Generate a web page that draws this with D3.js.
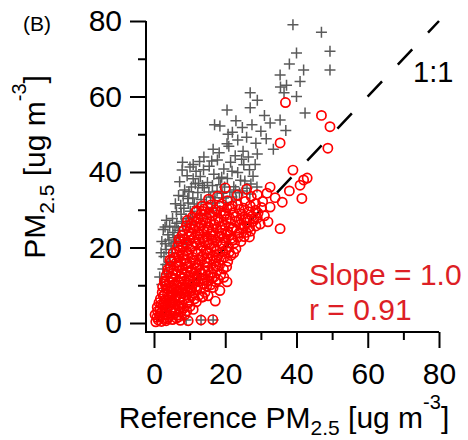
<!DOCTYPE html>
<html>
<head>
<meta charset="utf-8">
<script src="https://cdn.jsdelivr.net/npm/d3@7"></script>
<style>
  body { margin: 0; background: #fff; }
  svg { display: block; font-family: "Liberation Sans", Arial, sans-serif; }
</style>
</head>
<body>
<svg id="chart" width="468" height="440"></svg>
<script>
// tick values
var majorTicks = [0, 20, 40, 60, 80];
var minorTicks = [10, 30, 50, 70];

// sensor vs reference, [reference, sensor] in ug m-3
// gray crosses
var grayPoints = [
  [39.0,79.0],[47.0,77.0],[40.0,71.5],[49.4,72.0],[49.4,67.0],[38.0,68.6],[42.0,67.0],[35.4,65.7],
  [35.5,62.5],[36.5,61.0],[37.2,63.0],[41.0,64.0],[40.0,60.0],[42.4,55.6],[27.0,61.0],[29.0,59.0],
  [27.0,57.0],[31.0,55.0],[35.4,53.8],[37.0,51.0],[20.5,56.4],[17.0,52.5],[18.5,52.2],[20.8,50.0],
  [16.6,46.0],[11.0,42.0],[7.9,40.5],
  [22.0,50.5],[23.5,48.5],[24.8,51.8],[26.0,49.2],[27.5,52.5],[28.6,47.6],[30.0,50.8],[31.5,48.8],
  [32.6,53.0],[25.0,45.5],[29.0,44.8],[33.5,46.0],[23.0,53.6],[21.0,46.8],
  [14.0,44.0],[15.5,41.5],[17.8,43.2],[19.6,40.8],[21.5,42.6],[23.5,39.9],[25.2,41.9],[13.0,38.8],
  [15.0,37.2],[16.8,39.4],[18.7,36.6],[20.6,38.3],[22.4,36.1],[24.3,37.8],[26.1,35.7],[27.8,38.9],
  [10.5,36.0],[12.3,34.6],[14.1,35.8],[15.9,33.4],[17.7,34.9],[19.5,33.1],[21.3,34.7],[23.1,32.6],
  [9.5,33.0],[11.3,31.5],[13.2,32.7],[8.4,30.4],[10.2,29.6],[12.1,30.8],[9.0,27.6],[7.6,28.8],
  [6.4,26.4],[8.1,25.5],[5.3,24.0],[7.0,23.1],[4.2,22.0],[5.8,21.2],[3.4,19.5],[5.0,18.6],
  [2.8,17.6],[4.2,16.0],[2.5,14.3],[3.6,13.0],[2.2,10.2],[9.0,0.8],[13.2,0.8],[16.6,0.8],
  [6.0,31.6],[8.6,35.2],[11.8,40.2],[6.9,33.8],[16.5,30.6],[18.5,29.8],[14.6,28.9],
  [2.6,24.8],[4.4,25.6],[3.5,27.2],[2.2,21.6],[3.1,25.4],[5.9,25.4],[10.0,26.5],[6.4,21.5],
  [4.5,16.2],[9.2,20.7],[20.5,47.5],[26.5,44.0],[12.5,37.0],[17.0,31.8],[19.8,36.0],[24.0,34.5],
  [7.2,37.4],[8.0,42.6],[9.3,39.0],[10.1,41.3],[11.0,38.2],[12.8,42.8],[13.9,40.6],[16.2,42.9],
  [18.3,45.1],[19.0,38.6],[21.9,40.2],[22.8,44.3],[24.6,43.4],[26.8,40.6],[27.2,36.8],[28.4,42.0],
  [7.5,31.2],[8.2,33.6],[9.8,34.8],[10.9,33.1],[11.6,36.9],[13.6,36.4],[14.7,31.9],[15.4,34.7],
  [16.4,36.4],[17.1,33.2],[18.2,38.3],[19.1,34.4],[20.2,31.9],[21.9,33.4],[22.9,35.2],[24.9,35.0],
  [25.5,37.6],[26.9,34.2],[28.9,36.0],[5.2,27.7],[6.3,29.5],[7.8,26.9],[9.6,31.8],[10.8,28.0],
  [12.9,29.0],[3.9,23.4],[4.8,20.4],[6.8,24.6],[3.2,21.0],[5.6,22.6],[2.0,18.6],[3.3,15.5],[1.6,12.2]
];

// red circles
var redPoints = [
  [0.5,0.3],[1.2,0.8],[0.8,1.5],[2.1,0.4],[1.6,1.9],[2.8,1.2],[3.4,0.6],[0.3,2.2],[4.1,1.5],[3.0,2.4],
  [5.2,0.9],[4.6,2.0],[6.3,1.3],[2.2,2.9],[7.4,0.7],[5.8,2.6],[1.0,3.1],[13.2,0.8],[16.5,0.9],[9.6,0.6],
  [0.9,4.2],[1.7,3.6],[2.5,4.8],[3.3,3.4],[3.9,4.5],[4.7,3.1],[5.4,4.2],[6.1,3.3],[6.8,4.6],[7.5,2.8],
  [8.3,3.9],[9.2,3.2],[2.9,5.3],[4.4,5.6],[5.9,5.1],[1.4,5.4],[7.8,5.4],[10.1,4.4],[3.6,2.2],[6.6,2.1],
  [1.9,2.6],[3.8,1.1],[4.9,3.7],[6.9,1.6],[8.7,2.2],[2.0,4.9],[5.0,5.3],[7.2,3.8],[9.6,5.2],[11.0,3.6],
  [1.8,6.4],[2.6,7.1],[3.2,6.2],[3.8,7.7],[4.5,6.6],[5.1,7.5],[5.7,6.1],[6.4,7.2],[7.1,6.5],[7.7,7.8],
  [8.4,6.3],[9.0,7.4],[9.8,6.0],[10.6,7.1],[11.4,6.4],[12.5,7.3],[13.7,6.9],[2.3,8.1],[4.9,8.4],[6.9,8.6],
  [8.8,8.2],[10.3,8.5],[3.5,5.8],[11.9,5.6],[15.2,7.2],[13.5,6.9],[17.2,5.8],[18.5,8.6],[19.6,12.1],
  [2.9,7.6],[4.2,7.1],[5.5,8.9],[6.0,6.9],[7.4,7.0],[8.1,8.9],[9.4,8.4],[10.9,7.9],[12.0,8.8],[14.3,8.1],
  [2.4,9.6],[3.1,10.4],[3.7,9.1],[4.3,10.8],[5.0,9.4],[5.6,10.2],[6.2,9.0],[6.9,10.7],[7.5,9.5],[8.1,10.1],
  [8.8,9.3],[9.5,10.6],[10.2,9.1],[10.9,10.3],[11.7,9.6],[12.4,10.9],[13.1,9.2],[13.9,10.4],[14.8,9.8],[15.9,10.1],
  [16.6,9.4],[3.0,11.2],[5.3,11.5],[7.8,11.8],[9.9,11.4],[12.0,11.7],[14.2,11.3],[17.3,10.9],[20.5,10.9],[3.0,10.9],
  [3.4,9.9],[4.6,9.8],[6.6,9.9],[8.4,11.1],[9.7,9.4],[11.3,11.4],[13.5,11.8],[15.3,11.2],[16.3,12.0],[18.0,11.5],
  [3.4,12.6],[4.1,13.5],[4.8,12.2],[5.5,14.1],[6.1,12.9],[6.7,13.8],[7.4,12.4],[8.0,14.4],[8.6,12.8],[9.3,13.6],
  [10.0,12.3],[10.7,14.2],[11.3,13.1],[12.1,12.5],[12.8,14.0],[13.6,12.9],[14.4,13.8],[15.2,12.6],[16.0,13.4],[16.9,12.2],
  [17.8,13.9],[18.7,12.8],[19.5,14.3],[4.6,14.9],[7.1,15.2],[9.7,15.0],[12.3,15.3],[15.1,14.8],[17.4,15.1],
  [3.9,14.2],[5.2,13.1],[6.5,14.9],[7.8,13.2],[9.0,15.7],[10.4,13.5],[11.9,14.6],[13.2,13.4],[14.9,15.9],[16.6,14.5],
  [18.4,15.3],[20.4,14.9],
  [4.9,16.4],[5.6,17.2],[6.2,15.9],[6.9,17.6],[7.5,16.3],[8.2,18.1],[8.8,16.7],[9.5,17.9],[10.1,16.1],[10.8,17.4],
  [11.5,15.8],[12.2,18.3],[12.9,16.6],[13.6,17.7],[14.3,16.2],[15.0,18.4],[15.8,16.9],[16.5,17.8],[17.3,16.4],[18.1,18.0],
  [18.9,16.8],[19.8,17.5],[20.7,16.3],[21.6,17.9],[22.4,18.6],[6.4,18.8],[9.1,19.0],[11.7,18.9],[14.6,19.2],[17.6,19.1],
  [4.5,16.7],[20.2,19.3],[5.4,18.6],[7.2,19.3],[8.5,17.1],[10.0,19.6],[11.1,16.7],[13.2,19.1],[14.9,17.3],[16.0,19.8],
  [17.7,17.2],[19.3,18.9],[21.1,18.8],[23.0,19.7],
  [6.6,20.4],[7.3,21.6],[8.0,20.1],[8.6,22.3],[9.3,20.8],[10.0,21.9],[10.6,20.3],[11.3,22.6],[12.0,21.0],[12.7,22.1],
  [13.4,20.5],[14.1,21.7],[14.8,22.8],[15.5,20.9],[16.2,22.2],[16.9,20.4],[17.7,21.5],[18.4,22.9],[19.2,20.7],[20.0,21.8],
  [20.9,20.2],[21.7,22.4],[22.6,21.2],[23.5,22.7],[24.4,21.6],[25.3,22.9],[7.9,23.2],[10.4,23.5],[13.0,23.4],[15.9,23.6],
  [18.9,23.8],[21.3,23.3],[7.0,22.2],[8.9,21.2],[9.8,23.0],[11.6,21.4],[12.4,23.8],[13.7,22.4],[15.1,21.3],[16.6,23.2],
  [17.2,22.0],[18.7,21.2],[19.6,22.6],[20.5,23.5],[22.1,22.0],[23.9,23.9],[25.9,24.0],[26.8,22.8],
  [8.4,24.6],[9.1,25.8],[9.8,24.2],[10.5,26.3],[11.2,24.9],[11.9,26.7],[12.6,25.1],[13.3,26.0],[14.0,24.4],[14.7,26.5],
  [15.4,25.3],[16.1,24.1],[16.9,26.2],[17.6,25.0],[18.3,26.8],[19.1,24.6],[19.9,25.9],[20.7,24.3],[21.5,26.4],[22.3,25.2],
  [23.2,24.5],[24.1,26.1],[25.0,25.0],[25.9,26.6],[26.8,25.4],[27.8,26.9],[28.6,25.7],[29.0,27.8],[32.0,26.8],[35.4,25.0],
  [9.4,27.2],[10.2,25.2],[11.6,25.7],[12.9,26.5],[13.8,27.4],[15.0,24.6],[15.8,26.9],[17.2,27.2],[18.7,25.4],[20.3,27.4],
  [21.9,24.9],[22.8,26.9],[24.4,27.4],[25.4,25.8],[26.3,27.7],[27.1,24.3],[28.1,27.6],[29.8,26.2],
  [10.8,28.1],[11.6,29.4],[12.4,27.6],[13.2,28.9],[14.0,30.2],[14.8,27.9],[15.6,29.1],[16.4,28.3],[17.2,30.0],[18.0,27.8],
  [18.8,29.6],[19.7,28.5],[20.5,30.4],[21.3,27.7],[22.2,29.2],[23.0,28.2],[23.9,30.1],[24.8,28.8],[25.7,27.6],[26.6,29.5],
  [27.5,28.3],[28.5,29.9],[30.2,30.6],[32.6,30.7],[13.5,31.0],[16.0,31.3],[19.0,31.5],[22.0,31.0],
  [12.0,29.8],[13.6,29.6],[15.1,30.6],[16.8,29.3],[18.4,31.0],[20.1,29.0],[21.7,30.3],[23.5,31.3],[25.2,30.4],[27.0,31.0],
  [29.2,29.1],[31.0,28.4],
  [15.3,32.8],[17.8,33.6],[20.6,32.4],[23.4,33.9],[25.6,32.2],[27.3,33.5],[29.0,34.0],[31.7,34.4],[32.6,36.0],[36.0,32.0],
  [38.0,35.0],[41.5,33.0],[42.0,37.9],[41.0,36.5],[43.0,38.4],[26.0,35.5],[28.5,31.6],[34.0,33.2],[20.0,35.8],[30.5,32.2],
  [39.0,40.5],[35.4,47.7],[48.8,46.3],[47.0,55.0],[49.4,52.0],[36.9,58.4]
];

var svg = d3.select("#chart");
svg.append("rect").attr("width", 468).attr("height", 440).attr("fill", "#fff");

// data area is offset from the axis lines (axes drawn as a corner)
var x = d3.scaleLinear().domain([0, 80]).range([154, 439]);
var y = d3.scaleLinear().domain([0, 80]).range([323, 21]);
var axisX0 = 146, axisY0 = 332;

// 1:1 line, dashed, phase set from the top end; sits under the markers
svg.append("line")
  .attr("x1", x(80)).attr("y1", y(80))
  .attr("x2", x(0)).attr("y2", y(0))
  .attr("stroke", "#000")
  .attr("stroke-width", 2.5)
  .attr("stroke-dasharray", "21,23")
  .attr("stroke-dashoffset", 5);

// gray crosses first, red circles on top
svg.append("g").selectAll("path")
  .data(grayPoints)
  .enter().append("path")
    .attr("transform", function(d) { return "translate(" + x(d[0]) + "," + y(d[1]) + ")"; })
    .attr("d", "M-5.5,0H5.5M0,-5.5V5.5")
    .attr("stroke", "#5a5a5a")
    .attr("stroke-width", 1.5)
    .attr("fill", "none");

svg.append("g").selectAll("circle")
  .data(redPoints)
  .enter().append("circle")
    .attr("cx", function(d) { return x(d[0]); })
    .attr("cy", function(d) { return y(d[1]); })
    .attr("r", 4.6)
    .attr("fill", "none")
    .attr("stroke", "#ff0000")
    .attr("stroke-width", 1.7);

// axes
var yAxis = svg.append("g")
  .attr("transform", "translate(" + axisX0 + ",0)")
  .call(d3.axisLeft(y).tickValues(majorTicks).tickSize(16).tickPadding(8).tickSizeOuter(0));
var yMinor = svg.append("g")
  .attr("transform", "translate(" + axisX0 + ",0)")
  .call(d3.axisLeft(y).tickValues(minorTicks).tickSize(8).tickFormat(""));
var xAxis = svg.append("g")
  .attr("transform", "translate(0," + axisY0 + ")")
  .call(d3.axisBottom(x).tickValues(majorTicks).tickSize(16).tickPadding(15).tickSizeOuter(0));
var xMinor = svg.append("g")
  .attr("transform", "translate(0," + axisY0 + ")")
  .call(d3.axisBottom(x).tickValues(minorTicks).tickSize(8).tickFormat(""));

[yAxis, yMinor, xAxis, xMinor].forEach(function(g) {
  g.select(".domain").remove();
  g.selectAll(".tick line").attr("stroke", "#000").attr("stroke-width", 2);
  g.selectAll(".tick text")
    .attr("font-size", 30)
    .attr("font-family", "Liberation Sans, Arial, sans-serif")
    .attr("fill", "#000");
});

svg.append("path")
  .attr("d", "M" + axisX0 + "," + y(80) + "V" + axisY0 + "H" + x(80))
  .attr("fill", "none")
  .attr("stroke", "#000")
  .attr("stroke-width", 2);

// axis titles
var xt = svg.append("text")
  .attr("x", 284).attr("y", 428)
  .attr("text-anchor", "middle")
  .attr("font-size", 30);
xt.append("tspan").text("Reference PM");
xt.append("tspan").attr("font-size", 21).attr("dy", 7).text("2.5");
xt.append("tspan").attr("dy", -7).text(" [ug m");
xt.append("tspan").attr("font-size", 20).attr("dy", -19).text("-3");
xt.append("tspan").attr("dy", 19).text("]");

var yt = svg.append("text")
  .attr("transform", "translate(45,167) rotate(-90)")
  .attr("text-anchor", "middle")
  .attr("font-size", 30);
yt.append("tspan").text("PM");
yt.append("tspan").attr("font-size", 21).attr("dy", 9).text("2.5");
yt.append("tspan").attr("dy", -9).text(" [ug m");
yt.append("tspan").attr("font-size", 20).attr("dy", -19).text("-3");
yt.append("tspan").attr("dy", 19).text("]");

// annotations
svg.append("text")
  .attr("x", 23).attr("y", 31)
  .attr("font-size", 21)
  .text("(B)");
svg.append("text")
  .attr("x", 413).attr("y", 82)
  .attr("font-size", 29)
  .text("1:1");
svg.append("text")
  .attr("x", 309).attr("y", 285)
  .attr("font-size", 30)
  .attr("fill", "#dd1f26")
  .text("Slope = 1.0");
svg.append("text")
  .attr("x", 309).attr("y", 320)
  .attr("font-size", 30)
  .attr("fill", "#dd1f26")
  .text("r = 0.91");
</script>
</body>
</html>
